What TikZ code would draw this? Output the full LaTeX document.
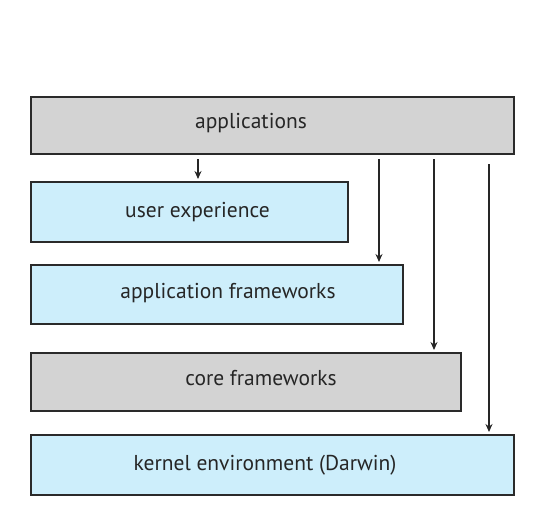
\documentclass[tikz,border=0pt]{standalone}
\usepackage{fontspec}
\setmainfont{PT Sans}
\usetikzlibrary{arrows.meta}
\definecolor{boxgray}{HTML}{D3D3D3}
\definecolor{boxblue}{HTML}{CDEEFB}
\definecolor{edge}{HTML}{2A2A2A}
\tikzset{
  layer/.style={draw=edge, line width=2pt, anchor=north west, inner sep=0pt},
  graylayer/.style={layer, fill=boxgray},
  bluelayer/.style={layer, fill=boxblue},
  lbl/.style={anchor=base, inner sep=0pt, font=\fontsize{21.5}{24}\selectfont, text=black!85},
  arr/.style={draw=black!85, line width=1.4pt, -{Stealth[length=8pt,width=7pt]}}
}
\begin{document}
\begin{tikzpicture}[x=1pt,y=-1pt]
\useasboundingbox (0,0) rectangle (543,531);
\node[graylayer, minimum width=483pt, minimum height=57pt] (app) at (30,96) {};
\node[bluelayer, minimum width=317pt, minimum height=60pt] (ux) at (30,181) {};
\node[bluelayer, minimum width=372pt, minimum height=59pt] (fw) at (30,264) {};
\node[graylayer, minimum width=430pt, minimum height=58pt] (core) at (30,352) {};
\node[bluelayer, minimum width=483pt, minimum height=60pt] (kern) at (30,434) {};
\node[lbl] (tapp) at (251,128) {applications};
\node[lbl] (tux) at (197.5,217) {user experience};
\node[lbl] (tfw) at (228,298) {application frameworks};
\node[lbl] (tcore) at (261,385) {core frameworks};
\node[lbl] (tkern) at (265,470) {kernel environment (Darwin)};
\coordinate (c1) at (198,0);
\coordinate (c2) at (379,0);
\coordinate (c3) at (434,0);
\coordinate (c4) at (489,0);
\draw[arr] ([yshift=-4pt]app.south -| c1) -- ([yshift=2pt]ux.north -| c1);
\draw[arr] ([yshift=-4pt]app.south -| c2) -- ([yshift=2pt]fw.north -| c2);
\draw[arr] ([yshift=-4pt]app.south -| c3) -- ([yshift=2pt]core.north -| c3);
\draw[arr] ([yshift=-9pt]app.south -| c4) -- ([yshift=2pt]kern.north -| c4);
\end{tikzpicture}
\end{document}
